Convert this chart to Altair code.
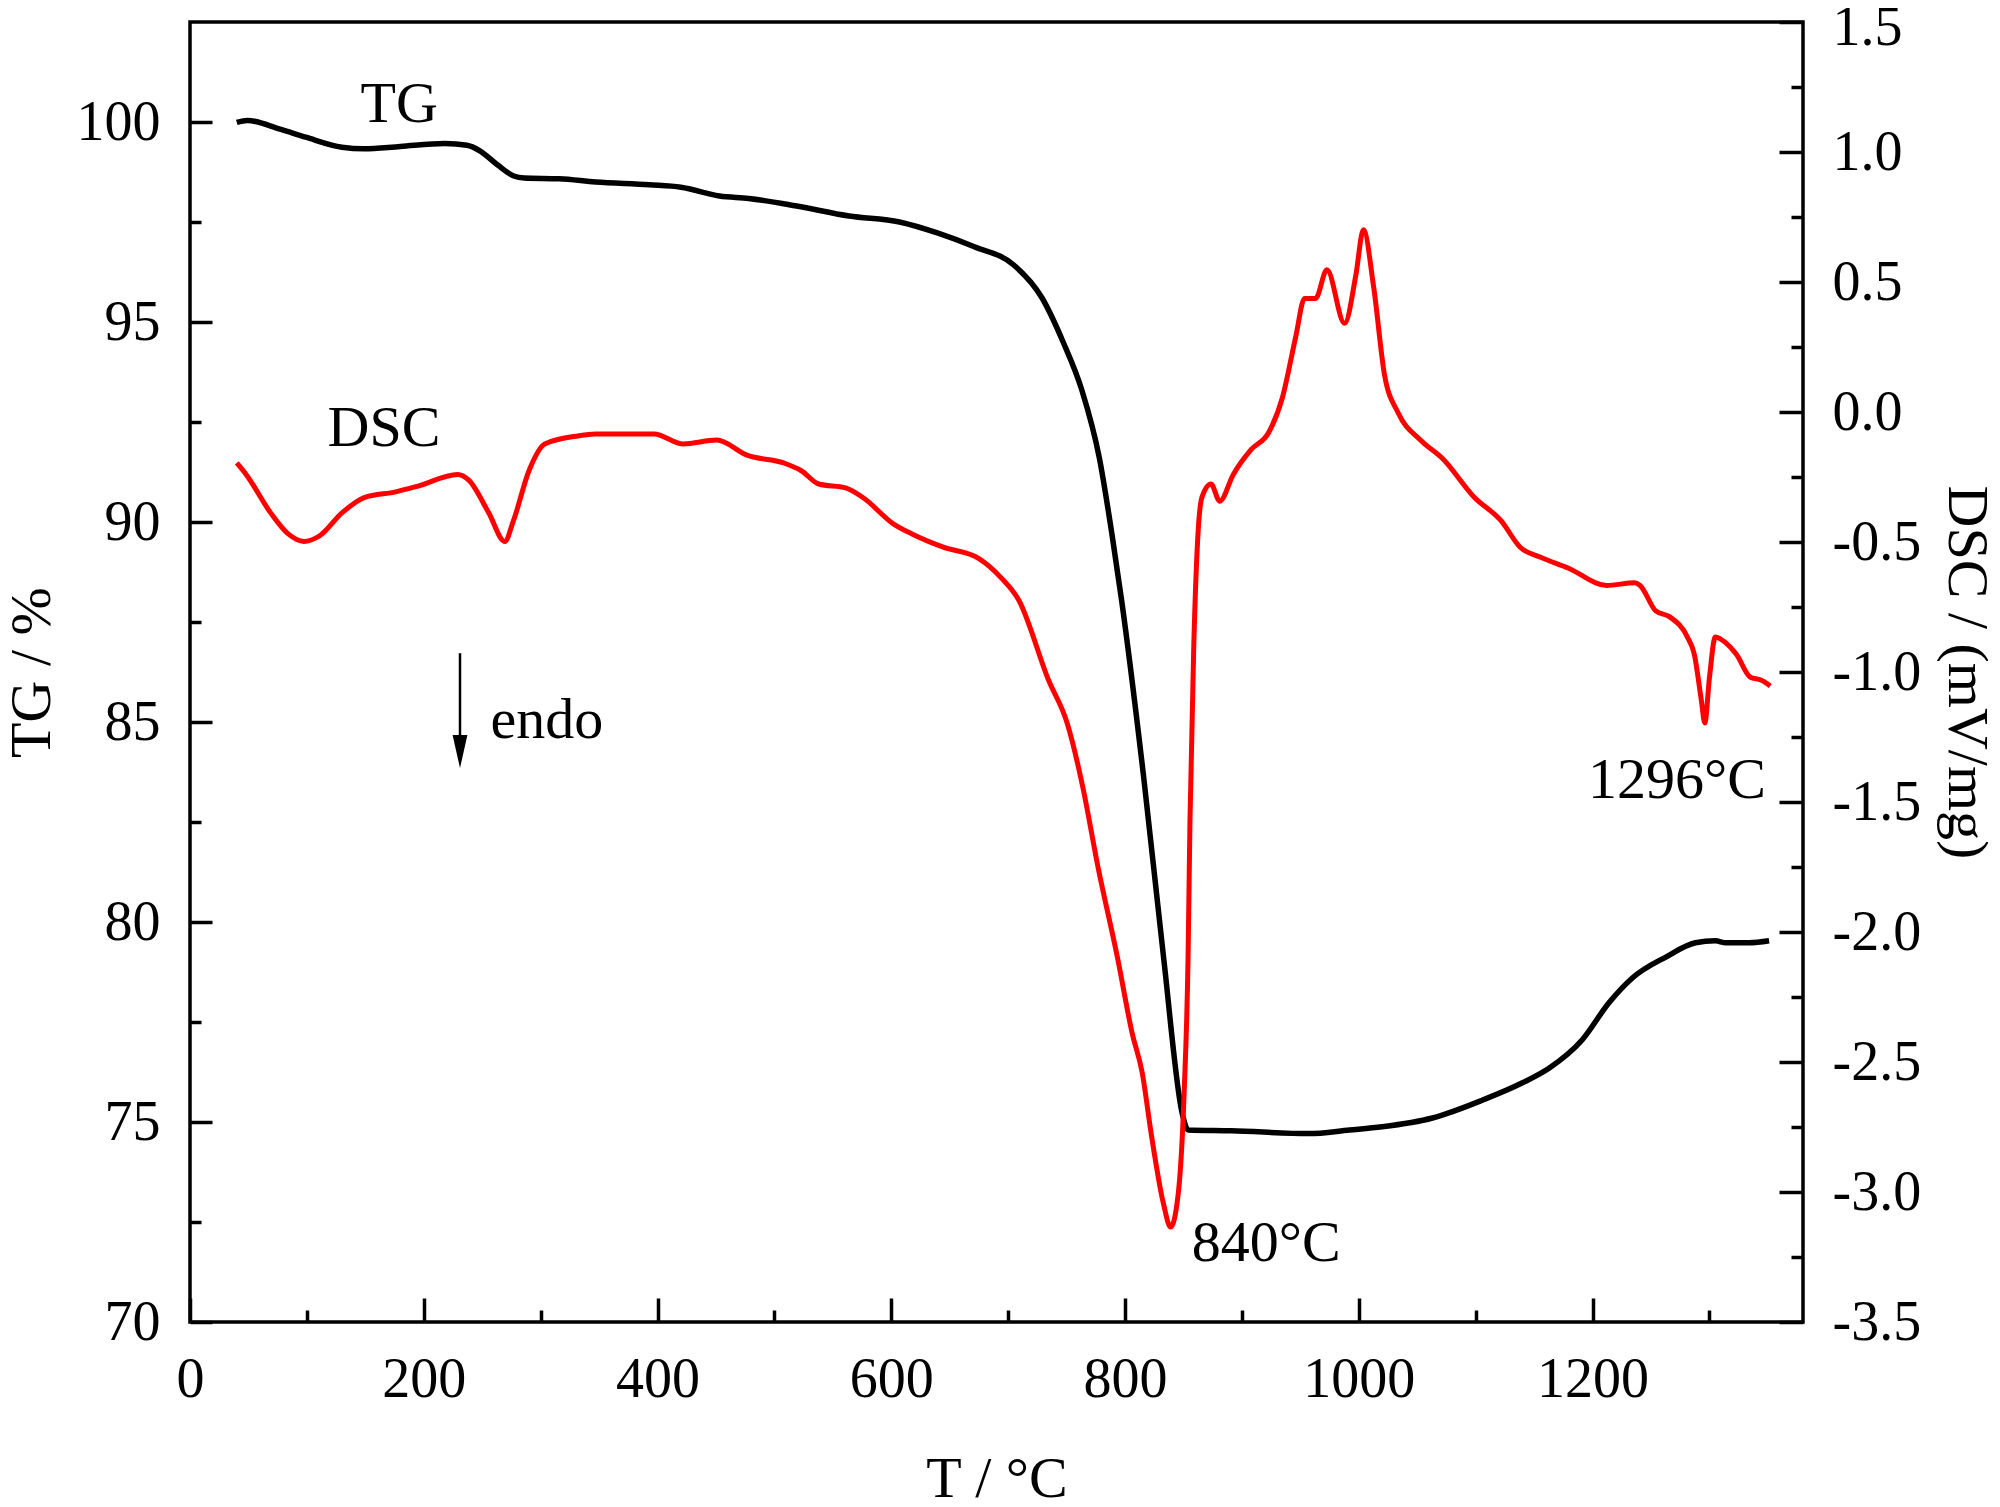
import altair as alt
import pandas as pd

# ---------------- data ----------------
tg_temp = [40, 49, 77, 99, 130, 149, 180, 218, 237, 248,
           263, 277, 286, 316, 347, 393, 420, 453, 478, 519,
           564, 607, 640, 671, 705, 729, 747, 763, 778, 789,
           797, 816, 833, 849, 854, 891, 957, 992, 1020, 1063,
           1106, 1140, 1163, 1191, 1214, 1234, 1263, 1288, 1305, 1314,
           1334, 1351]
tg_mass = [99.99, 100.04, 99.82, 99.62, 99.37, 99.33, 99.39, 99.46, 99.42, 99.28,
           98.93, 98.65, 98.6, 98.58, 98.5, 98.43, 98.37, 98.15, 98.09, 97.9,
           97.65, 97.5, 97.22, 96.88, 96.42, 95.6, 94.5, 93.3, 91.6, 89.65,
           88.05, 83.6, 79.1, 75.2, 74.8, 74.78, 74.71, 74.8, 74.88, 75.1,
           75.55, 75.98, 76.35, 77.05, 77.98, 78.6, 79.13, 79.48, 79.53, 79.48,
           79.48, 79.53]

dsc_temp = [40, 48, 69, 84, 97.5, 111, 130, 149, 176, 195,
            229, 238.5, 255.6, 269.3, 276.8, 290, 303.5, 332, 347, 397,
            422, 450.6, 477, 508, 523, 538, 561, 575.7, 602, 617.7,
            644.5, 675, 694, 709, 734.4, 750.7, 763.9, 777, 793.4, 806,
            814.6, 822.6, 832.6, 839, 845.5, 850.6, 853.9, 855.5, 858.8, 862,
            865.7, 873.5, 881, 892.6, 907.8, 923, 934.5, 946, 953.6, 963,
            972.7, 987.8, 997.4, 1003.9, 1012.7, 1022, 1033.7, 1052.7, 1072, 1098.5,
            1122, 1138, 1155, 1179, 1212, 1236, 1240.6, 1254, 1266, 1281,
            1287, 1293, 1296, 1300, 1305, 1314, 1323, 1335, 1344, 1352]
dsc_signal = [-0.196, -0.24, -0.388, -0.469, -0.498, -0.476, -0.388, -0.329, -0.307, -0.285,
              -0.24, -0.262, -0.388, -0.498, -0.417, -0.226, -0.123, -0.092, -0.085, -0.085,
              -0.123, -0.108, -0.167, -0.196, -0.226, -0.277, -0.292, -0.329, -0.431, -0.469,
              -0.52, -0.564, -0.638, -0.723, -1.03, -1.20, -1.444, -1.754, -2.096, -2.388,
              -2.54, -2.783, -3.04, -3.135, -3.006, -2.61, -2.096, -1.58, -0.895, -0.5,
              -0.329, -0.277, -0.343, -0.240, -0.145, -0.078, 0.054, 0.289, 0.437, 0.437,
              0.547, 0.341, 0.525, 0.701, 0.48, 0.142, -0.004, -0.108, -0.181, -0.327,
              -0.42, -0.52, -0.558, -0.60, -0.667, -0.657, -0.667, -0.765, -0.788, -0.865,
              -0.932, -1.108, -1.196, -1.02, -0.865, -0.888, -0.932, -1.02, -1.031, -1.054]

# curve labels (TG scale)
curve_labels = ["TG", "DSC"]
curve_label_temp = [179, 166]
curve_label_tg = [100.0, 91.9]

endo_label = ["endo"]
endo_temp = [257]
endo_tg = [84.6]

arrow_temp = [231]
arrow_top_tg = [86.72]
arrow_tip_tg = [84.26]

# peak labels (DSC scale)
peak_labels = ["840°C", "1296°C"]
peak_temp = [857, 1196]
peak_dsc = [-3.264, -1.485]

# axis ticks
x_major = [0, 200, 400, 600, 800, 1000, 1200]
x_minor = [100, 300, 500, 700, 900, 1100, 1300]
tg_major = [70, 75, 80, 85, 90, 95, 100]
tg_minor = [72.5, 77.5, 82.5, 87.5, 92.5, 97.5]
dsc_major = [-3.5, -3.0, -2.5, -2.0, -1.5, -1.0, -0.5, 0.0, 0.5, 1.0, 1.5]
dsc_minor = [-3.25, -2.75, -2.25, -1.75, -1.25, -0.75, -0.25, 0.25, 0.75, 1.25]

# ---------------- style ----------------
W, H = 1613, 1300
FONT = "Liberation Serif"
FS = 56
TFS = 58
TICKW = 3.5

x_scale = alt.Scale(domain=[0, 1380], nice=False, zero=False)
tg_scale = alt.Scale(domain=[70, 102.5], nice=False, zero=False)
dsc_scale = alt.Scale(domain=[-3.5, 1.5], nice=False, zero=False)


def tick_axis(orient, values, size, offset):
    return alt.Axis(orient=orient, values=values, ticks=True, tickSize=size,
                    tickWidth=TICKW, tickColor="black", labels=False,
                    domain=False, grid=False, title=None, offset=offset)


x_label_axis = alt.Axis(orient="bottom", values=x_major, format="d", ticks=False,
                        tickSize=0, domain=False, grid=False,
                        labelFont=FONT, labelFontSize=FS, labelColor="black",
                        labelPadding=57, labelBaseline="middle", labelFlush=False,
                        labelOverlap=False,
                        title="T / °C", titleFont=FONT, titleFontSize=TFS,
                        titleFontWeight="normal", titleColor="black",
                        titleX=W / 2, titleY=157, titleAlign="center",
                        titleBaseline="middle")

tg_label_axis = alt.Axis(orient="left", values=tg_major, format="d", ticks=False,
                         tickSize=0, domain=False, grid=False,
                         labelFont=FONT, labelFontSize=FS, labelColor="black",
                         labelPadding=30, labelAlign="right", labelBaseline="middle",
                         labelFlush=False, labelOverlap=False,
                         title="TG / %", titleFont=FONT, titleFontSize=TFS,
                         titleFontWeight="normal", titleColor="black",
                         titleX=-158, titleY=H / 2, titleAngle=270,
                         titleAlign="center", titleBaseline="middle")

dsc_label_axis = alt.Axis(orient="right", values=dsc_major, ticks=False,
                          tickSize=0, domain=False, grid=False,
                          labelExpr="(datum.value < 0 ? '-' : '') + format(abs(datum.value), '.1f')",
                          labelFont=FONT, labelFontSize=FS, labelColor="black",
                          labelPadding=29, labelAlign="left", labelBaseline="middle",
                          labelOffset={"condition": {"test": "datum.value > 1.4", "value": 5}, "value": 0},
                          labelFlush=False, labelOverlap=False,
                          title="DSC / (mV/mg)", titleFont=FONT, titleFontSize=TFS,
                          titleFontWeight="normal", titleColor="black",
                          titleX=162, titleY=H / 2, titleAngle=90,
                          titleAlign="center", titleBaseline="middle")

# ---------------- TG group ----------------
tg_df = pd.DataFrame({"T": tg_temp, "v": tg_mass})
curve_lab_df = pd.DataFrame({"T": curve_label_temp, "v": curve_label_tg, "label": curve_labels})
endo_df = pd.DataFrame({"T": endo_temp, "v": endo_tg, "label": endo_label})
arrow_df = pd.DataFrame({"T": arrow_temp, "top": arrow_top_tg, "tip": arrow_tip_tg})

tg_line = alt.Chart(tg_df).mark_line(color="black", strokeWidth=5.5, interpolate="monotone").encode(
    x=alt.X("T:Q", scale=x_scale, axis=x_label_axis),
    y=alt.Y("v:Q", scale=tg_scale, axis=tg_label_axis),
)

curve_text = alt.Chart(curve_lab_df).mark_text(
    font=FONT, fontSize=TFS, color="black", align="center", baseline="alphabetic"
).encode(
    x=alt.X("T:Q", scale=x_scale, axis=tick_axis("top", x_major, 24, -H)),
    y=alt.Y("v:Q", scale=tg_scale, axis=tick_axis("right", tg_major, 22, -W)),
    text="label:N",
)

endo_text = alt.Chart(endo_df).mark_text(
    font=FONT, fontSize=TFS, color="black", align="left", baseline="alphabetic"
).encode(
    x=alt.X("T:Q", scale=x_scale, axis=tick_axis("top", x_minor, 12, -H)),
    y=alt.Y("v:Q", scale=tg_scale, axis=tick_axis("right", tg_minor, 11, -W)),
    text="label:N",
)

arrow_rule = alt.Chart(arrow_df).mark_rule(color="black", strokeWidth=2.5).encode(
    x=alt.X("T:Q", scale=x_scale, axis=None),
    y=alt.Y("top:Q", scale=tg_scale, axis=None),
    y2="tip:Q",
)

arrow_head = alt.Chart(arrow_df).mark_point(
    shape="M-0.45,-1L0.45,-1L0,1Z", size=1089, filled=True, color="black", opacity=1
).encode(
    x=alt.X("T:Q", scale=x_scale, axis=None),
    y=alt.Y("tip:Q", scale=tg_scale, axis=None),
)

tg_group = alt.layer(tg_line, curve_text, endo_text, arrow_rule, arrow_head).resolve_axis(
    x="independent", y="independent")

# ---------------- DSC group ----------------
dsc_df = pd.DataFrame({"T": dsc_temp, "v": dsc_signal})
peak1_df = pd.DataFrame({"T": peak_temp[:1], "v": peak_dsc[:1], "label": peak_labels[:1]})
peak2_df = pd.DataFrame({"T": peak_temp[1:], "v": peak_dsc[1:], "label": peak_labels[1:]})

dsc_line = alt.Chart(dsc_df).mark_line(color="#ff0000", strokeWidth=5, interpolate="monotone").encode(
    x=alt.X("T:Q", scale=x_scale, axis=None),
    y=alt.Y("v:Q", scale=dsc_scale, axis=dsc_label_axis),
)

peak1_text = alt.Chart(peak1_df).mark_text(
    font=FONT, fontSize=TFS, color="black", align="left", baseline="alphabetic"
).encode(
    x=alt.X("T:Q", scale=x_scale, axis=None),
    y=alt.Y("v:Q", scale=dsc_scale, axis=tick_axis("left", dsc_major, 24, -W)),
    text="label:N",
)

peak2_text = alt.Chart(peak2_df).mark_text(
    font=FONT, fontSize=TFS, color="black", align="left", baseline="alphabetic"
).encode(
    x=alt.X("T:Q", scale=x_scale, axis=None),
    y=alt.Y("v:Q", scale=dsc_scale, axis=tick_axis("left", dsc_minor, 12, -W)),
    text="label:N",
)

dsc_group = alt.layer(dsc_line, peak1_text, peak2_text).resolve_axis(
    x="independent", y="independent")

chart = alt.layer(tg_group, dsc_group).resolve_scale(y="independent").resolve_axis(
    x="independent", y="independent"
).properties(
    width=W, height=H,
    padding={"left": 182, "top": 14, "right": 185, "bottom": 177},
    autosize=alt.AutoSizeParams(type="none"),
    background="white",
).configure_view(stroke="black", strokeWidth=3.5)

chart.save("out.html", embed_options={"renderer": "svg", "actions": False})
